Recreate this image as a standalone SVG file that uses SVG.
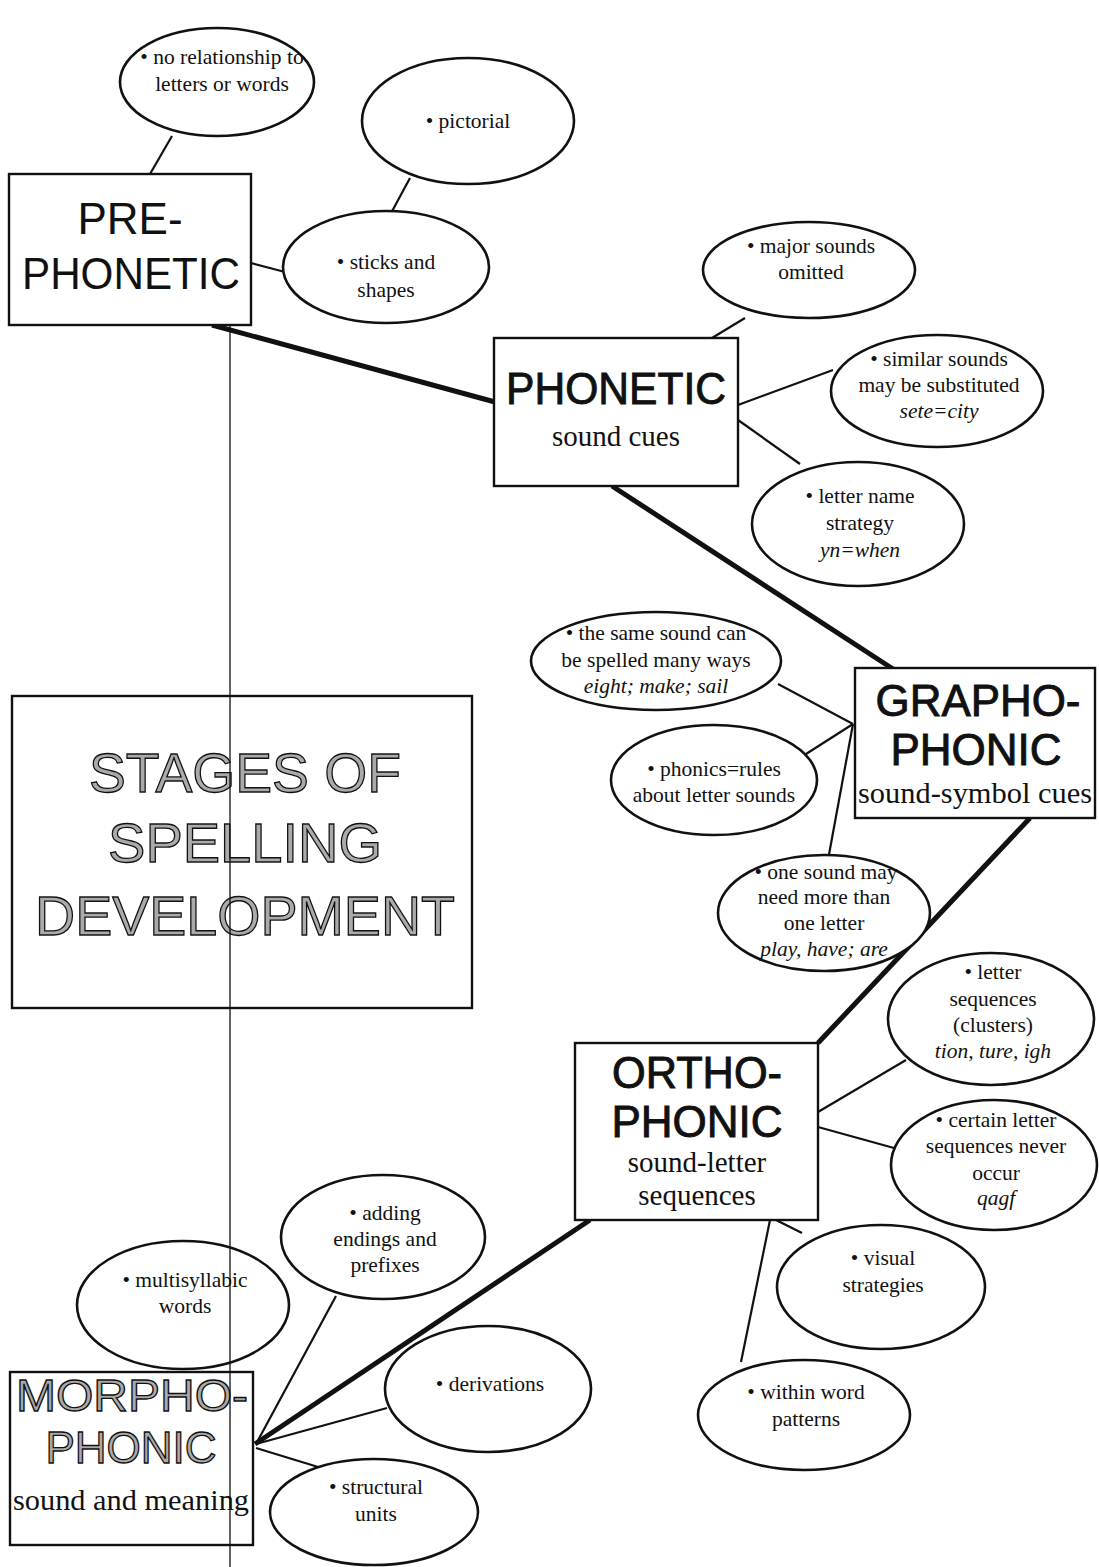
<svg xmlns="http://www.w3.org/2000/svg" width="1099" height="1567" viewBox="0 0 1099 1567">
<style>
.bg{fill:#fff}
.el{fill:#fff;stroke:#111;stroke-width:2.6}
.box{fill:#fff;stroke:#111;stroke-width:2.4}
.thin{stroke:#111;stroke-width:2.2;fill:none}
.thick{stroke:#111;stroke-width:5;fill:none}
.t{font-family:"Liberation Serif","Times New Roman",serif;font-size:21.5px;fill:#111;text-anchor:middle}
.i{font-style:italic}
.big{font-family:"Liberation Sans",Arial,Helvetica,sans-serif;font-size:44px;fill:#111;text-anchor:middle}
.dark{stroke:#111;stroke-width:0.9}
.hollow{fill:#aaa;stroke:#111;stroke-width:1.3}
.sub{font-family:"Liberation Serif","Times New Roman",serif;font-size:29px;fill:#111;text-anchor:middle}
.title{font-family:"Liberation Sans",Arial,Helvetica,sans-serif;font-size:56px;text-anchor:middle}
</style>
<rect class="bg" x="0" y="0" width="1099" height="1567"/>
<g id="connectors">
<line class="thin" x1="172" y1="136" x2="150" y2="174"/>
<line class="thin" x1="410" y1="178" x2="390" y2="215"/>
<line class="thin" x1="251" y1="263" x2="285" y2="272"/>
<line class="thick" x1="212" y1="325" x2="495" y2="402"/>
<line class="thin" x1="745" y1="318" x2="712" y2="338"/>
<line class="thin" x1="738" y1="405" x2="833" y2="370"/>
<line class="thin" x1="738" y1="420" x2="800" y2="464"/>
<line class="thick" x1="612" y1="486" x2="893" y2="669"/>
<line class="thin" x1="778" y1="684" x2="853" y2="724"/>
<line class="thin" x1="806" y1="754" x2="853" y2="724"/>
<line class="thin" x1="828" y1="860" x2="853" y2="724"/>
<line class="thick" x1="1030" y1="818" x2="818" y2="1043"/>
<line class="thin" x1="818" y1="1112" x2="906" y2="1060"/>
<line class="thin" x1="818" y1="1127" x2="894" y2="1148"/>
<line class="thin" x1="776" y1="1220" x2="802" y2="1233"/>
<line class="thin" x1="770" y1="1220" x2="741" y2="1362"/>
<line class="thick" x1="590" y1="1220" x2="255" y2="1444"/>
<line class="thin" x1="336" y1="1296" x2="256" y2="1444"/>
<line class="thin" x1="387" y1="1408" x2="256" y2="1444"/>
<line class="thin" x1="328" y1="1470" x2="256" y2="1448"/>
</g>
<g id="no-relationship">
<ellipse class="el" cx="217" cy="82" rx="97" ry="54"/>
<text class="t" x="222" y="64">• no relationship to</text>
<text class="t" x="222" y="91">letters or words</text>
</g>
<g id="pictorial">
<ellipse class="el" cx="468" cy="121" rx="106" ry="63"/>
<text class="t" x="468" y="128">• pictorial</text>
</g>
<g id="sticks">
<ellipse class="el" cx="386" cy="267" rx="103" ry="56"/>
<text class="t" x="386" y="269">• sticks and</text>
<text class="t" x="386" y="297">shapes</text>
</g>
<g id="pre-phonetic">
<rect class="box" x="9" y="174" width="242" height="151"/>
<text class="big" x="130" y="234">PRE-</text>
<text class="big" x="131" y="289" textLength="218" lengthAdjust="spacingAndGlyphs">PHONETIC</text>
</g>
<g id="major">
<ellipse class="el" cx="809" cy="270" rx="106" ry="48"/>
<text class="t" x="811" y="253">• major sounds</text>
<text class="t" x="811" y="279">omitted</text>
</g>
<g id="similar">
<ellipse class="el" cx="937" cy="391" rx="106" ry="56"/>
<text class="t" x="939" y="366">• similar sounds</text>
<text class="t" x="939" y="392">may be substituted</text>
<text class="t i" x="939" y="418">sete=city</text>
</g>
<g id="letter-name">
<ellipse class="el" cx="858" cy="524" rx="106" ry="62"/>
<text class="t" x="860" y="503">• letter name</text>
<text class="t" x="860" y="530">strategy</text>
<text class="t i" x="860" y="557">yn=when</text>
</g>
<g id="phonetic">
<rect class="box" x="494" y="338" width="244" height="148"/>
<text class="big dark" x="616" y="404" textLength="220" lengthAdjust="spacingAndGlyphs">PHONETIC</text>
<text class="sub" x="616" y="446">sound cues</text>
</g>
<g id="same-sound">
<ellipse class="el" cx="656" cy="661" rx="125" ry="49"/>
<text class="t" x="656" y="640">• the same sound can</text>
<text class="t" x="656" y="667">be spelled many ways</text>
<text class="t i" x="656" y="693">eight; make; sail</text>
</g>
<g id="phonics">
<ellipse class="el" cx="714" cy="780" rx="103" ry="55"/>
<text class="t" x="714" y="776">• phonics=rules</text>
<text class="t" x="714" y="802">about letter sounds</text>
</g>
<g id="one-sound">
<ellipse class="el" cx="824" cy="913" rx="106" ry="58"/>
<text class="t" x="826" y="879">• one sound may</text>
<text class="t" x="824" y="904">need more than</text>
<text class="t" x="824" y="930">one letter</text>
<text class="t i" x="824" y="956">play, have; are</text>
</g>
<g id="grapho-phonic">
<rect class="box" x="855" y="668" width="240" height="150"/>
<text class="big dark" x="978" y="716" textLength="205" lengthAdjust="spacingAndGlyphs">GRAPHO-</text>
<text class="big dark" x="976" y="765">PHONIC</text>
<text class="sub" x="975" y="803" textLength="234" lengthAdjust="spacingAndGlyphs">sound-symbol cues</text>
</g>
<g id="letter-seq">
<ellipse class="el" cx="991" cy="1019" rx="103" ry="66"/>
<text class="t" x="993" y="979">• letter</text>
<text class="t" x="993" y="1006">sequences</text>
<text class="t" x="993" y="1032">(clusters)</text>
<text class="t i" x="993" y="1058">tion, ture, igh</text>
</g>
<g id="certain">
<ellipse class="el" cx="994" cy="1165" rx="103" ry="65"/>
<text class="t" x="996" y="1127">• certain letter</text>
<text class="t" x="996" y="1153">sequences never</text>
<text class="t" x="996" y="1180">occur</text>
<text class="t i" x="996" y="1205">qagf</text>
</g>
<g id="visual">
<ellipse class="el" cx="881" cy="1287" rx="104" ry="62"/>
<text class="t" x="883" y="1265">• visual</text>
<text class="t" x="883" y="1292">strategies</text>
</g>
<g id="within">
<ellipse class="el" cx="804" cy="1415" rx="106" ry="55"/>
<text class="t" x="806" y="1399">• within word</text>
<text class="t" x="806" y="1426">patterns</text>
</g>
<g id="ortho-phonic">
<rect class="box" x="575" y="1043" width="243" height="177"/>
<text class="big dark" x="697" y="1088" textLength="170" lengthAdjust="spacingAndGlyphs">ORTHO-</text>
<text class="big dark" x="697" y="1137">PHONIC</text>
<text class="sub" x="697" y="1172">sound-letter</text>
<text class="sub" x="697" y="1205">sequences</text>
</g>
<g id="adding">
<ellipse class="el" cx="383" cy="1237" rx="102" ry="62"/>
<text class="t" x="385" y="1220">• adding</text>
<text class="t" x="385" y="1246">endings and</text>
<text class="t" x="385" y="1272">prefixes</text>
</g>
<g id="multisyllabic">
<ellipse class="el" cx="183" cy="1305" rx="106" ry="64"/>
<text class="t" x="185" y="1287">• multisyllabic</text>
<text class="t" x="185" y="1313">words</text>
</g>
<g id="derivations">
<ellipse class="el" cx="488" cy="1389" rx="103" ry="63"/>
<text class="t" x="490" y="1391">• derivations</text>
</g>
<g id="structural">
<ellipse class="el" cx="374" cy="1512" rx="104" ry="53"/>
<text class="t" x="376" y="1494">• structural</text>
<text class="t" x="376" y="1521">units</text>
</g>
<g id="morpho-phonic">
<rect class="box" x="10" y="1372" width="243" height="173"/>
<text class="big hollow" x="132" y="1411" textLength="232" lengthAdjust="spacingAndGlyphs">MORPHO-</text>
<text class="big hollow" x="131" y="1463">PHONIC</text>
<text class="sub" x="131" y="1510" textLength="236" lengthAdjust="spacingAndGlyphs">sound and meaning</text>
</g>
<g id="stages">
<rect class="box" x="12" y="696" width="460" height="312"/>
<text class="title hollow" x="245" y="792" textLength="312" lengthAdjust="spacingAndGlyphs">STAGES OF</text>
<text class="title hollow" x="245" y="862">SPELLING</text>
<text class="title hollow" x="245" y="935" textLength="420" lengthAdjust="spacingAndGlyphs">DEVELOPMENT</text>
</g>
<line id="vertical-rule" x1="230" y1="325" x2="230" y2="1567" stroke="#111" stroke-width="1.3"/>
</svg>
